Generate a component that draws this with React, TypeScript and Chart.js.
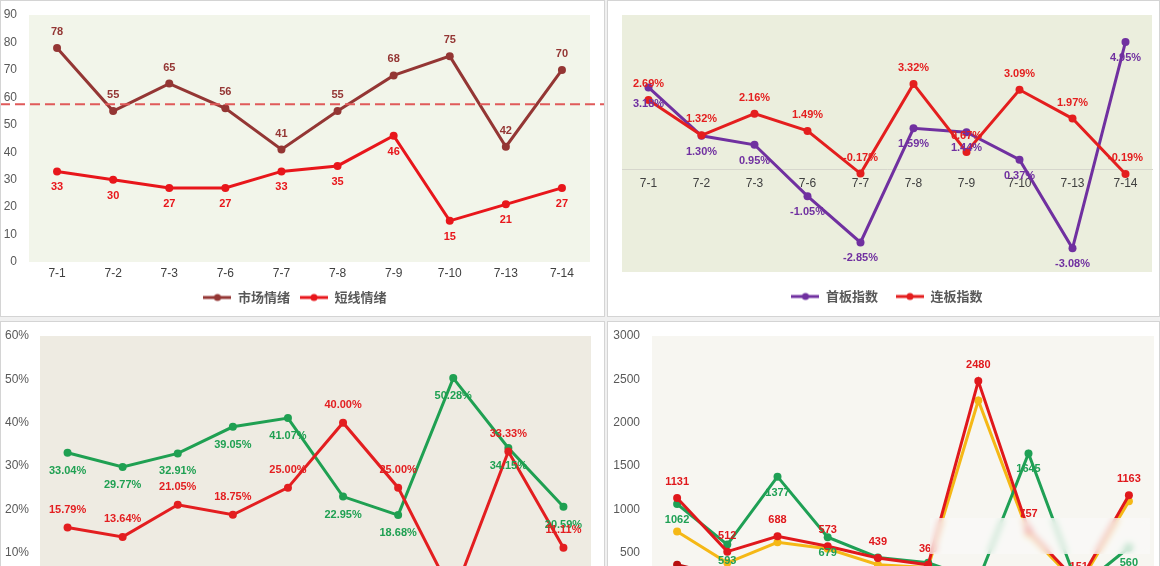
import React, { useEffect, useRef } from 'react';
import { Chart, registerables } from 'chart.js';

Chart.register(...registerables);

const days = ['7-1', '7-2', '7-3', '7-6', '7-7', '7-8', '7-9', '7-10', '7-13', '7-14'];

// 情绪
const marketMood = [78, 55, 65, 56, 41, 55, 68, 75, 42, 70];
const shortMood = [33, 30, 27, 27, 33, 35, 46, 15, 21, 27];
const moodRefValue = 57.5;

// 指数涨幅 (%)
const firstBoard = [3.18, 1.3, 0.95, -1.05, -2.85, 1.59, 1.44, 0.37, -3.08, 4.95];
const chainBoard = [2.69, 1.32, 2.16, 1.49, -0.17, 3.32, 0.67, 3.09, 1.97, -0.19];

// 比例 (%)
const greenRate = [33.04, 29.77, 32.91, 39.05, 41.07, 22.95, 18.68, 50.28, 34.15, 20.59];
const redRate = [15.79, 13.64, 21.05, 18.75, 25.0, 40.0, 25.0, 0, 33.33, 11.11];

// 数量
const redCount = [1131, 512, 688, 573, 439, 360, 2480, 757, 151, 1163];
const orangeCount = [745, 383, 620, 545, 360, 330, 2256, 720, 120, 1093];
const greenCount = [1062, 593, 1377, 679, 445, 384, 180, 1645, 90, 560];
const darkCount = [362, 220, 280, 240, 180, 150, 120, 200, 80, 240];

const NUM_FONT = '"Liberation Sans", Arial, sans-serif';
const CJK_FONT = '"Noto Sans CJK SC", "Noto Sans", sans-serif';

function markerImage(color: string) {
    const c = document.createElement('canvas');
    c.width = 28;
    c.height = 10;
    const g = c.getContext('2d')!;
    g.strokeStyle = color;
    g.lineWidth = 3;
    g.beginPath();
    g.moveTo(0, 5);
    g.lineTo(28, 5);
    g.stroke();
    g.fillStyle = color;
    g.beginPath();
    g.arc(14, 5, 3.5, 0, Math.PI * 2);
    g.fill();
    return c;
}

const plotBg = {
    id: 'plotBg',
    beforeDraw(chart: any, _args: any, opts: any) {
        const { ctx, chartArea: a } = chart;
        ctx.save();
        ctx.fillStyle = opts.color;
        ctx.fillRect(a.left, a.top, a.right - a.left, a.bottom - a.top);
        ctx.restore();
    },
};

const pointLabels = {
    id: 'pointLabels',
    afterDatasetsDraw(chart: any) {
        const ctx = chart.ctx;
        chart.data.datasets.forEach((ds: any, i: number) => {
            if (!ds.labelPos) return;
            const meta = chart.getDatasetMeta(i);
            ctx.save();
            ctx.font = 'bold 11px ' + NUM_FONT;
            ctx.fillStyle = ds.borderColor;
            ctx.textAlign = 'center';
            ctx.textBaseline = 'middle';
            const dy = (ds.labelPos === 'above' ? -1 : 1) * (ds.labelGap || 16);
            meta.data.forEach((pt: any, j: number) => {
                const v = ds.data[j];
                ctx.fillText(ds.fmt ? ds.fmt(v) : String(v), pt.x, pt.y + dy);
            });
            ctx.restore();
        });
    },
};

const refLine = {
    id: 'refLine',
    afterDraw(chart: any, _args: any, opts: any) {
        if (opts.value === undefined) return;
        const { ctx } = chart;
        const y = chart.scales.y.getPixelForValue(opts.value);
        ctx.save();
        ctx.strokeStyle = '#E05A5A';
        ctx.lineWidth = 2;
        ctx.setLineDash([10, 5]);
        ctx.beginPath();
        ctx.moveTo(0, y);
        ctx.lineTo(chart.width, y);
        ctx.stroke();
        ctx.restore();
    },
};

function legendOpts(padding: number) {
    return {
        display: true,
        position: 'bottom',
        labels: {
            usePointStyle: true,
            pointStyleWidth: 28,
            padding,
            color: '#595959',
            font: { family: CJK_FONT, size: 13, weight: 'bold' },
            generateLabels(chart: any) {
                const items = (Chart.defaults.plugins.legend.labels as any).generateLabels(chart);
                return items
                    .sort((a: any, b: any) => a.datasetIndex - b.datasetIndex)
                    .map((it: any) => ({
                        ...it,
                        pointStyle: markerImage(chart.data.datasets[it.datasetIndex].borderColor),
                    }));
            },
        },
    };
}

function series(label: string, data: number[], color: string, extra: any = {}) {
    return {
        label,
        data,
        borderColor: color,
        backgroundColor: color,
        pointBackgroundColor: color,
        pointBorderColor: color,
        borderWidth: 3,
        pointRadius: 4,
        pointHoverRadius: 4,
        pointBorderWidth: 0,
        tension: 0,
        ...extra,
    };
}

const pct = (v: number) => v.toFixed(2) + '%';

function yAxis(width: number, pad: number, min: number, max: number, step: number, fmt?: (v: number) => string) {
    return {
        min,
        max,
        ticks: {
            stepSize: step,
            color: '#595959',
            padding: pad,
            font: { family: NUM_FONT, size: 12 },
            callback: (v: any) => (fmt ? fmt(v) : String(v)),
        },
        grid: { display: false, drawTicks: false },
        border: { display: false },
        afterFit: (s: any) => {
            s.width = width;
            // tick padding should not push the plot area down
            s.paddingTop = 0;
            s.paddingBottom = 0;
        },
    };
}

function xAxis(height: number, pad: number) {
    return {
        offset: true,
        ticks: { color: '#404040', padding: pad, font: { family: NUM_FONT, size: 12 }, maxRotation: 0, autoSkip: false },
        grid: { display: false, drawTicks: false },
        border: { display: false },
        afterFit: (s: any) => {
            s.height = height;
        },
    };
}

const baseOpts = {
    animation: false,
    responsive: false,
    events: [],
};

function moodConfig(): any {
    return {
        type: 'line',
        data: {
            labels: days,
            datasets: [
                series('市场情绪', marketMood, '#943634', { labelPos: 'above' }),
                series('短线情绪', shortMood, '#E8161B', { labelPos: 'below' }),
            ],
        },
        options: {
            ...baseOpts,
            layout: { padding: { left: 0, right: 15, top: 15, bottom: 3 } },
            scales: { x: xAxis(19, 4), y: yAxis(29, 12, 0, 90, 10) },
            plugins: {
                legend: legendOpts(10),
                tooltip: { enabled: false },
                plotBg: { color: '#F2F5EA' },
                refLine: { value: moodRefValue },
            },
        },
        plugins: [plotBg, pointLabels, refLine],
    };
}

function boardConfig(): any {
    return {
        type: 'line',
        data: {
            labels: days,
            datasets: [
                series('首板指数', firstBoard, '#7030A0', { labelPos: 'below', fmt: pct, order: 1 }),
                series('连板指数', chainBoard, '#E41E1E', { labelPos: 'above', fmt: pct, order: 0 }),
            ],
        },
        options: {
            ...baseOpts,
            layout: { padding: { left: 15, right: 8, top: 15, bottom: 4 } },
            scales: {
                x: {
                    offset: true,
                    position: { y: 0 },
                    ticks: { color: '#404040', padding: 7, font: { family: NUM_FONT, size: 12 }, maxRotation: 0, autoSkip: false },
                    grid: { display: true, color: 'rgba(0,0,0,0)', drawTicks: false },
                    border: { display: true, color: '#D6D6CC', width: 1 },
                },
                y: { display: false, min: -4, max: 6 },
            },
            plugins: {
                legend: legendOpts(18),
                tooltip: { enabled: false },
                plotBg: { color: '#EBEEDD' },
            },
        },
        plugins: [plotBg, pointLabels],
    };
}

function rateConfig(): any {
    return {
        type: 'line',
        data: {
            labels: days,
            datasets: [
                series('绿', greenRate, '#1FA052', { labelPos: 'below', labelGap: 18, fmt: pct, order: 1 }),
                series('红', redRate, '#E31E20', { labelPos: 'above', labelGap: 18, fmt: pct, order: 0 }),
            ],
        },
        options: {
            ...baseOpts,
            layout: { padding: { left: 0, right: 14, top: 15, bottom: 30 } },
            scales: { x: xAxis(25, 6), y: yAxis(40, 11, 0, 60, 10, (v) => v + '%') },
            plugins: {
                legend: { display: false },
                tooltip: { enabled: false },
                plotBg: { color: '#EEEBE2' },
            },
        },
        plugins: [plotBg, pointLabels],
    };
}

function countConfig(): any {
    return {
        type: 'line',
        data: {
            labels: days,
            datasets: [
                series('红', redCount, '#E0181C', { labelPos: 'above', order: 0 }),
                series('绿', greenCount, '#1FA055', { labelPos: 'below', order: 1 }),
                series('橙', orangeCount, '#F5B816', { order: 2 }),
                series('深红', darkCount, '#B81010', { order: 3 }),
            ],
        },
        options: {
            ...baseOpts,
            layout: { padding: { left: 0, right: 6, top: 15, bottom: 30 } },
            scales: { x: xAxis(25, 6), y: yAxis(45, 12, 0, 3000, 500) },
            plugins: {
                legend: { display: false },
                tooltip: { enabled: false },
                plotBg: { color: '#F7F6F1' },
            },
        },
        plugins: [plotBg, pointLabels],
    };
}

interface PanelProps {
    left: number;
    top: number;
    width: number;
    height: number;
    build: () => any;
}

const ChartPanel: React.FC<PanelProps> = ({ left, top, width, height, build }) => {
    const canvasRef = useRef<HTMLCanvasElement | null>(null);

    useEffect(() => {
        if (!canvasRef.current) return;
        const chart = new Chart(canvasRef.current, build());
        return () => {
            chart.destroy();
        };
    }, [build]);

    return (
        <div
            style={{
                position: 'absolute',
                left,
                top,
                width,
                height,
                background: '#fff',
                border: '1px solid #D4D4D4',
                boxSizing: 'border-box',
                overflow: 'hidden',
            }}
        >
            <canvas
                ref={canvasRef}
                width={width}
                height={height}
                style={{ position: 'absolute', left: -1, top: -1, width, height }}
            />
        </div>
    );
};

export default function App() {
    return (
        <div
            style={{
                position: 'fixed',
                left: 0,
                top: 0,
                width: 1160,
                height: 566,
                overflow: 'hidden',
                background: '#F0F0F0',
            }}
        >
            <ChartPanel left={0} top={0} width={605} height={317} build={moodConfig} />
            <ChartPanel left={607} top={0} width={553} height={317} build={boardConfig} />
            <ChartPanel left={0} top={321} width={605} height={330} build={rateConfig} />
            <ChartPanel left={607} top={321} width={553} height={330} build={countConfig} />
            <div
                style={{
                    position: 'absolute',
                    left: 930,
                    top: 518,
                    width: 220,
                    height: 36,
                    background: 'rgba(250,250,248,0.7)',
                    backdropFilter: 'blur(3px)',
                }}
            />
        </div>
    );
}
